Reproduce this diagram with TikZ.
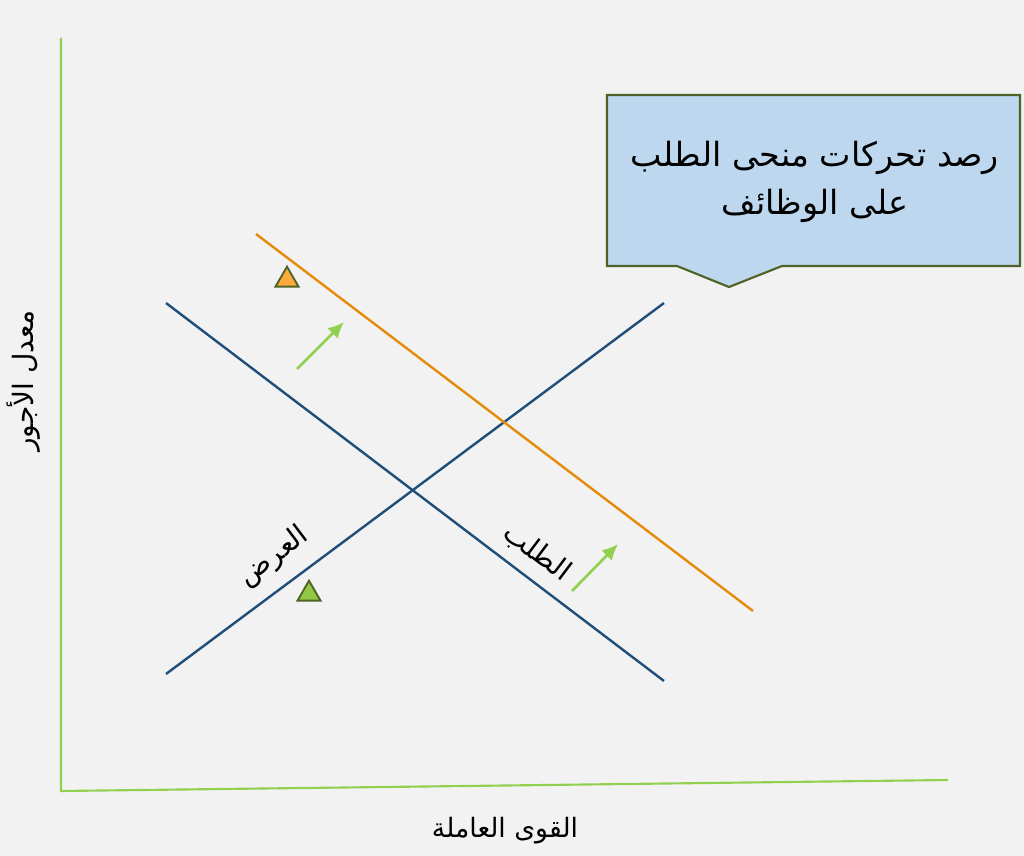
\documentclass[tikz,border=0pt]{standalone}
\usepackage{fontspec}
\newfontfamily\arabicfont[Script=Arabic]{DejaVu Sans}
\TeXXeTstate=1
\definecolor{bgc}{RGB}{242,242,242}
\definecolor{axisg}{RGB}{146,208,80}
\definecolor{blueln}{RGB}{31,78,121}
\definecolor{orangeln}{RGB}{228,140,10}
\definecolor{darkol}{RGB}{79,98,40}
\definecolor{calloutfill}{RGB}{189,215,238}
\definecolor{trior}{RGB}{255,170,60}
\definecolor{trigr}{RGB}{146,200,70}
\begin{document}
\begin{tikzpicture}[x=0.75pt,y=-0.75pt,
  axisline/.style={draw=axisg,line width=1.6pt},
  curve/.style={draw=blueln,line width=1.8pt},
  shifted/.style={draw=orangeln,line width=1.8pt},
  shiftarrow/.style={draw=axisg,line width=2pt,-{Latex[length=12pt,width=11pt]}},
  marker/.style={regular polygon,regular polygon sides=3,draw=darkol,line width=1.4pt,inner sep=0pt,minimum size=20pt},
  lbl/.style={font=\arabicfont\fontsize{21}{24}\selectfont,text=black,inner sep=0pt},
]
\usetikzlibrary{arrows.meta,shapes.geometric}
\fill[bgc] (0,0) rectangle (1024,856);
\useasboundingbox (0,0) rectangle (1024,856);
% axes
\coordinate (ytop) at (61,38);
\coordinate (origin) at (61,791);
\coordinate (xend) at (948,780);
\draw[axisline] (ytop) -- (origin) -- (xend);
% curves
\coordinate (d1) at (166,303);
\coordinate (d2) at (664,681);
\coordinate (s1) at (166,674);
\coordinate (s2) at (664,303);
\coordinate (n1) at (256,234);
\coordinate (n2) at (753,611);
\draw[curve] (d1) -- (d2);
\draw[curve] (s1) -- (s2);
\draw[shifted] (n1) -- (n2);
% arrows
\coordinate (a1s) at (297,369);
\coordinate (a1e) at (344,322);
\coordinate (a2s) at (572,591);
\coordinate (a2e) at (618,544);
\draw[shiftarrow] (a1s) -- (a1e);
\draw[shiftarrow] (a2s) -- (a2e);
% triangles
\node[marker,fill=trior] (tri1) at (287,280) {};
\node[marker,fill=trigr] (tri2) at (309,594) {};
% callout
\draw[draw=darkol,fill=calloutfill,line width=1.6pt]
  (607,95) -- (1020,95) -- (1020,266) -- (782,266) -- (729,287) -- (677,266) -- (607,266) -- cycle;
\node[lbl,font=\arabicfont\fontsize{25}{36}\selectfont,align=center] (callt) at (815,182)
  {\beginR رصد تحركات منحى الطلب\endR\\\beginR على الوظائف\endR};
% labels
\node[lbl,rotate=37] (supl) at (274,557) {\beginR العرض\endR};
\node[lbl,rotate=-37] (deml) at (537,553) {\beginR الطلب\endR};
\node[lbl,rotate=90] (ylab) at (24,381) {\beginR معدل الأجور\endR};
\node[lbl,font=\arabicfont\fontsize{20}{24}\selectfont] (xlab) at (505,831) {\beginR القوى العاملة\endR};
\end{tikzpicture}
\end{document}
